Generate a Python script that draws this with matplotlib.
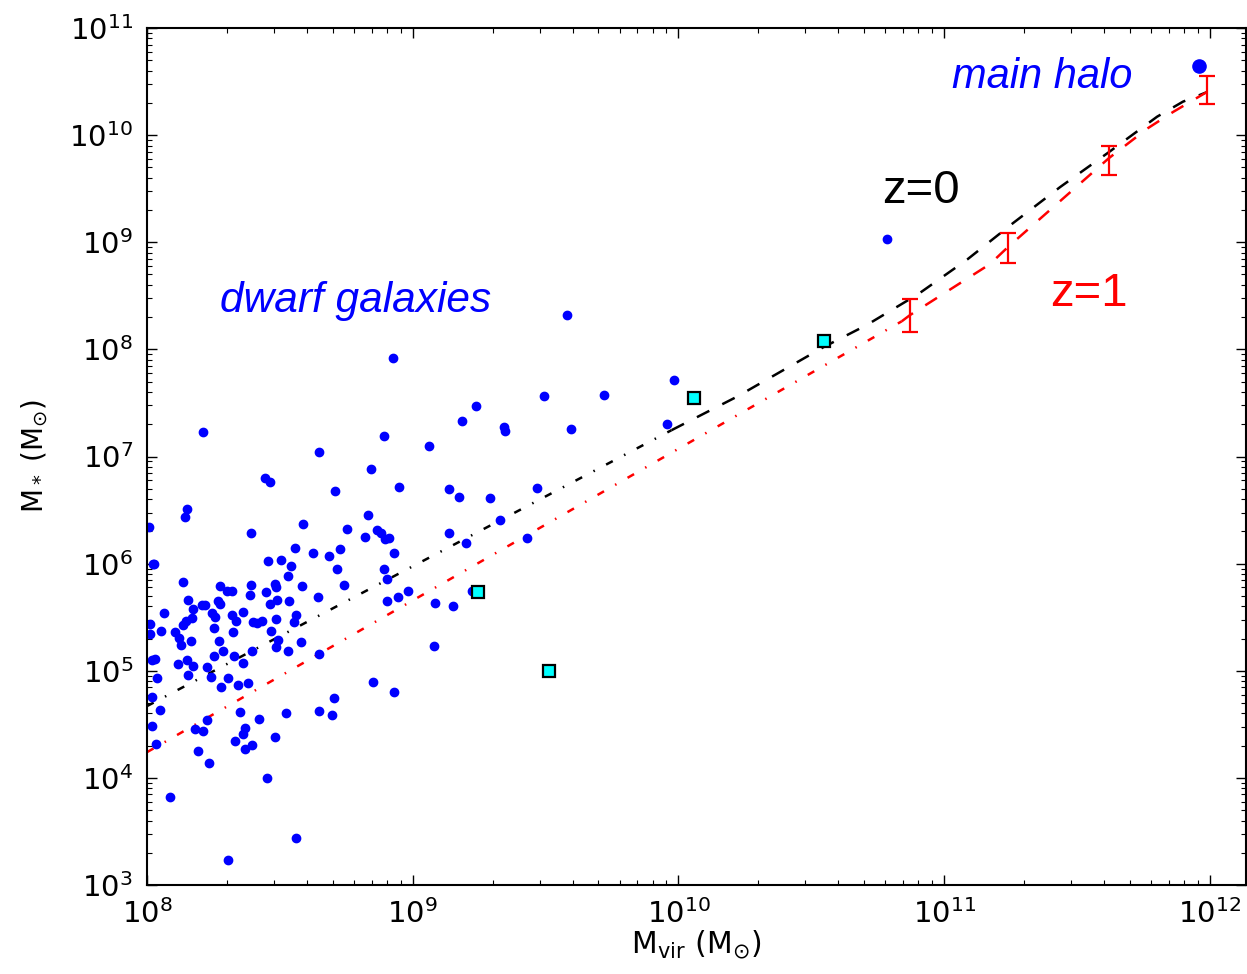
import numpy as np
import matplotlib
matplotlib.use("Agg")
import matplotlib.pyplot as plt
from matplotlib.ticker import NullFormatter

plt.rcParams['lines.scale_dashes'] = False
plt.rcParams['mathtext.default'] = 'regular'

# dwarf galaxies, log10 of Mvir and M* (Msun)
dwarf_lmvir = [
    8.209, 8.648, 8.892, 9.238, 9.187, 9.060, 8.842, 8.706, 8.948, 9.135,
    9.174, 9.291, 8.444, 8.463, 8.152, 8.144, 8.009, 8.390, 8.588, 8.832,
    8.751, 8.867, 8.882, 8.897, 8.912, 8.819, 9.138, 9.200, 8.556, 8.626,
    8.684, 8.727, 8.928, 8.021, 8.026, 8.455, 8.503, 8.541, 8.532, 8.715,
    8.892, 8.903, 8.137, 8.273, 8.302, 8.320, 8.393, 8.480, 8.484, 8.585,
    8.740, 8.447, 8.386, 8.154, 8.266, 8.276, 8.208, 8.219, 8.173, 8.064,
    8.490, 8.464, 8.534, 8.643, 8.902, 8.943, 8.983, 9.084, 9.150, 9.223,
    8.011, 8.013, 8.051, 8.104, 8.120, 8.127, 8.137, 8.148, 8.171, 8.166,
    8.246, 8.257, 8.253, 8.270, 8.320, 8.336, 8.362, 8.325, 8.399, 8.413,
    8.433, 8.484, 8.467, 8.552, 8.559, 8.494, 8.487, 8.531, 8.578, 8.395,
    8.362, 8.327, 8.287, 8.253, 8.225, 8.172, 8.151, 8.118, 8.030, 8.020,
    8.156, 8.241, 8.305, 8.039, 8.647, 9.079,
    8.277, 8.342, 8.381, 8.019, 8.048, 8.019, 8.035, 8.350, 8.226, 8.181,
    8.211, 8.369, 8.360, 8.421, 8.331, 8.396, 8.369, 8.193, 8.234, 8.482,
    8.523, 8.646, 8.695, 8.704, 8.850, 8.929, 8.450, 8.085, 8.562, 8.305,
    9.984, 9.493, 9.720, 9.343, 9.347, 9.595, 9.958, 9.468, 9.327, 9.430,
    8.926, 9.580, 10.785,
]
dwarf_lmstar = [
    7.225, 7.038, 7.190, 7.471, 7.334, 7.094, 6.882, 6.674, 6.711, 6.699,
    6.624, 6.609, 6.801, 6.764, 6.506, 6.431, 6.338, 6.282, 6.366, 6.456,
    6.325, 6.313, 6.282, 6.232, 6.238, 6.247, 6.282, 6.195, 6.148, 6.095,
    6.073, 6.139, 6.098, 5.992, 5.999, 6.020, 6.030, 5.974, 5.880, 5.946,
    5.946, 5.858, 5.833, 5.787, 5.749, 5.743, 5.799, 5.808, 5.778, 5.790,
    5.799, 5.731, 5.706, 5.659, 5.647, 5.619, 5.610, 5.610, 5.581, 5.535,
    5.656, 5.622, 5.653, 5.690, 5.650, 5.693, 5.746, 5.631, 5.606, 5.749,
    5.435, 5.339, 5.373, 5.358, 5.308, 5.245, 5.426, 5.466, 5.491, 5.276,
    5.535, 5.504, 5.395, 5.280, 5.525, 5.463, 5.553, 5.358, 5.454, 5.444,
    5.460, 5.485, 5.370, 5.454, 5.516, 5.289, 5.220, 5.186, 5.264, 5.186,
    5.068, 5.140, 5.189, 5.140, 5.037, 5.043, 5.099, 5.059, 5.112, 5.105,
    4.956, 4.943, 4.934, 4.928, 5.161, 5.230,
    4.850, 4.866, 4.881, 4.753, 4.632, 4.483, 4.315, 4.616, 4.541, 4.458,
    4.436, 4.461, 4.414, 4.548, 4.343, 4.305, 4.265, 4.252, 4.137, 4.377,
    4.607, 4.626, 4.585, 4.747, 4.891, 4.803, 3.997, 3.817, 3.437, 3.229,
    7.716, 7.567, 7.573, 7.277, 7.237, 7.259, 7.303, 6.708, 6.403, 6.235,
    7.919, 8.320, 9.030,
]

# main halo
halo_lmvir = [11.959]
halo_lmstar = [10.645]

# cyan squares
sq_lmvir = [10.548, 10.058, 9.246, 9.513]
sq_lmstar = [8.078, 7.545, 5.734, 4.996]

# z=0 relation
z0_dd_lmvir = [8.0, 9.974]
z0_dd_lmstar = [4.67, 7.246]
z0_lmvir = [9.974, 10.219, 10.545, 10.708, 10.902, 11.087, 11.259, 11.436,
            11.620, 11.801, 11.898, 11.989]
z0_lmstar = [7.246, 7.557, 8.02, 8.227, 8.516, 8.840, 9.179, 9.515,
             9.842, 10.172, 10.312, 10.402]

# z=1 relation
z1_dd_lmvir = [8.0, 10.84]
z1_dd_lmstar = [4.24, 8.262]
z1_lmvir = [10.84, 10.871, 11.172, 11.241, 11.620, 11.767, 11.861, 11.990]
z1_lmstar = [8.262, 8.320, 8.796, 8.958, 9.786, 10.066, 10.216, 10.405]

# z=1 error bars
eb_lmvir = [10.871, 11.241, 11.620, 11.990]
eb_lmstar = [8.320, 8.958, 9.786, 10.405]
eb_low = [8.159, 8.803, 9.627, 10.288]
eb_high = [8.467, 9.089, 9.901, 10.555]

p = lambda a: 10 ** np.array(a)

fig = plt.figure(figsize=(12.47, 9.74), dpi=100)
ax = fig.add_axes([147 / 1247, 89 / 974, 1099 / 1247, 857 / 974])

ax.plot(p(z0_dd_lmvir), p(z0_dd_lmstar), color='k', lw=1.8,
        dashes=(5.4, 9.2, 1.1, 9.2))
ax.plot(p(z0_lmvir), p(z0_lmstar), color='k', lw=1.8, dashes=(10, 10.5))
ax.plot(p(z1_dd_lmvir), p(z1_dd_lmstar), color='r', lw=1.8,
        dashes=(5.4, 9.2, 1.1, 9.2))
ax.plot(p(z1_lmvir), p(z1_lmstar), color='r', lw=1.8, dashes=(10, 10.5))

ey = p(eb_lmstar)
yerr = [ey - p(eb_low), p(eb_high) - ey]
ax.errorbar(p(eb_lmvir), ey, yerr=yerr, fmt='none', ecolor='r',
            elinewidth=1.6, capsize=6, capthick=1.6)

ax.plot(p(dwarf_lmvir), p(dwarf_lmstar), 'o', color='b', mec='b', ms=6)
ax.plot(p(halo_lmvir), p(halo_lmstar), 'o', color='b', mec='b', ms=9.5)
ax.plot(p(sq_lmvir), p(sq_lmstar), 's', color='cyan', mec='k', mew=1.6, ms=8)

ax.set_xscale('log')
ax.set_yscale('log')
ax.set_xlim(1e8, 10 ** 12.1355)
ax.set_ylim(1e3, 1e11)
ax.xaxis.set_minor_formatter(NullFormatter())
ax.yaxis.set_minor_formatter(NullFormatter())

for s in ax.spines.values():
    s.set_linewidth(1.5)
ax.tick_params(which='both', direction='in', top=True, right=True,
               labelsize=21)
ax.tick_params(which='major', length=7, width=1, pad=10)
ax.tick_params(which='minor', length=3.5, width=0.8)

ax.set_xlabel(r'$\mathrm{M_{vir}\ (M_{\odot})}$', fontsize=21.5, labelpad=0)
ax.set_ylabel(r'$\mathrm{M_*\ (M_{\odot})}$', fontsize=20, labelpad=14)

tfont = 'Liberation Sans'
ax.text(10 ** 11.029, 10 ** 10.44, 'main halo', color='b', style='italic',
        fontsize=30, family=tfont)
ax.text(10 ** 8.275, 10 ** 8.35, 'dwarf galaxies', color='b', style='italic',
        fontsize=30.5, family=tfont)
ax.text(10 ** 10.766, 10 ** 9.366, 'z=0', color='k', fontsize=34, family=tfont)
ax.text(10 ** 11.398, 10 ** 8.404, 'z=1', color='r', fontsize=34, family=tfont)

fig.savefig('out.png', dpi=100)
